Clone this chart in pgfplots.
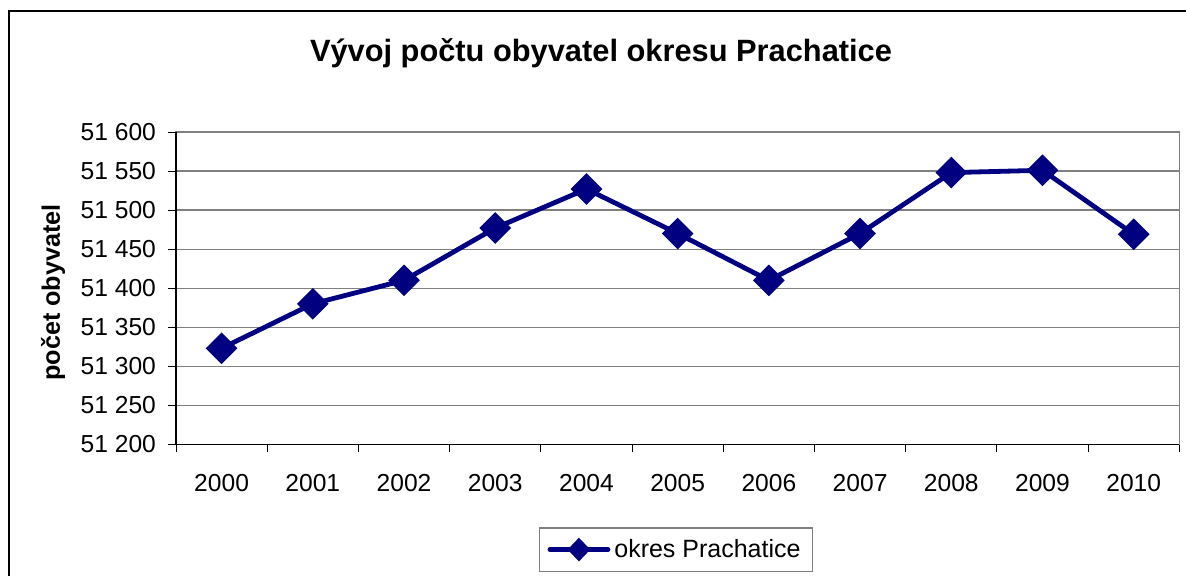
\documentclass[border=0pt]{standalone}
\usepackage{pgfplots}
\pgfplotsset{compat=1.18}
\usepackage{fontspec}
\setmainfont{Liberation Sans}

\definecolor{navyline}{RGB}{0,0,128}
\definecolor{gridgray}{RGB}{128,128,128}

\pgfplotstableread{
year pop
0 51323
1 51380
2 51410
3 51477
4 51527
5 51470
6 51410
7 51470
8 51548
9 51551
10 51469
}\popdata

\begin{document}
\begin{tikzpicture}
\useasboundingbox (0,0) rectangle (593pt,287.5pt);
% outer chart frame (right and bottom edges fall outside the picture)
\draw[black, line width=1.2pt] (4.5pt,-10pt) rectangle (610pt,282pt);
\begin{axis}[
    at={(88pt,65.35pt)}, anchor=south west,
    scale only axis,
    width=501.65pt, height=156.15pt,
    xmin=-0.5, xmax=10.5,
    ymin=51200, ymax=51600,
    xtick={0,...,10},
    xticklabels={2000,2001,2002,2003,2004,2005,2006,2007,2008,2009,2010},
    minor xtick={-0.5,0.5,...,10.5},
    major x tick style={draw=none},
    ytick={51200,51250,...,51600},
    scaled y ticks=false,
    /pgf/number format/assume math mode=true,
    /pgf/number format/1000 sep={\ },
    tick align=outside,
    xtick pos=bottom, ytick pos=left,
    major tick length=4pt, minor tick length=4pt,
    tick style={black, line width=0.5pt},
    ymajorgrids,
    grid style={gridgray, line width=0.6pt},
    axis line style={gridgray, line width=0.6pt},
    tick label style={font=\fontsize{12.3}{14}\selectfont, text=black},
    xticklabel style={yshift=-7.5pt},
    yticklabel style={xshift=-2.5pt},
    title={Vývoj počtu obyvatel okresu Prachatice},
    every axis title/.style={font=\bfseries\fontsize{15.4}{17}\selectfont,
        at={(axis description cs:0.4236,1.253)}, anchor=center},
    ylabel={počet obyvatel},
    ylabel style={font=\bfseries\fontsize{12.6}{14}\selectfont,
        at={(axis description cs:-0.1226,0.486)}, anchor=center},
    legend style={at={(axis description cs:0.4984,-0.337)}, anchor=center,
        draw=gridgray, line width=0.6pt, font=\fontsize{12.5}{14}\selectfont,
        inner xsep=4pt, inner ysep=3.5pt},
    legend cell align=left,
    legend image code/.code={
        \draw[navyline, line width=2.4pt, line cap=round] (0pt,0pt) -- (29pt,0pt);
        \fill[navyline] (14.5pt,4.2pt) -- (18.5pt,0pt) -- (14.5pt,-4.2pt) -- (10.5pt,0pt) -- cycle;
    },
    clip=false,
]
\draw[black, line width=0.6pt] (rel axis cs:0,1) -- (rel axis cs:0,0) -- (rel axis cs:1,0);
\addplot[navyline, line width=2.4pt, mark=square*, mark size=4.4pt,
    mark options={rotate=45, solid, fill=navyline}]
    table[x=year, y=pop] {\popdata};
\addlegendentry{okres Prachatice}
\end{axis}
\end{tikzpicture}
\end{document}
